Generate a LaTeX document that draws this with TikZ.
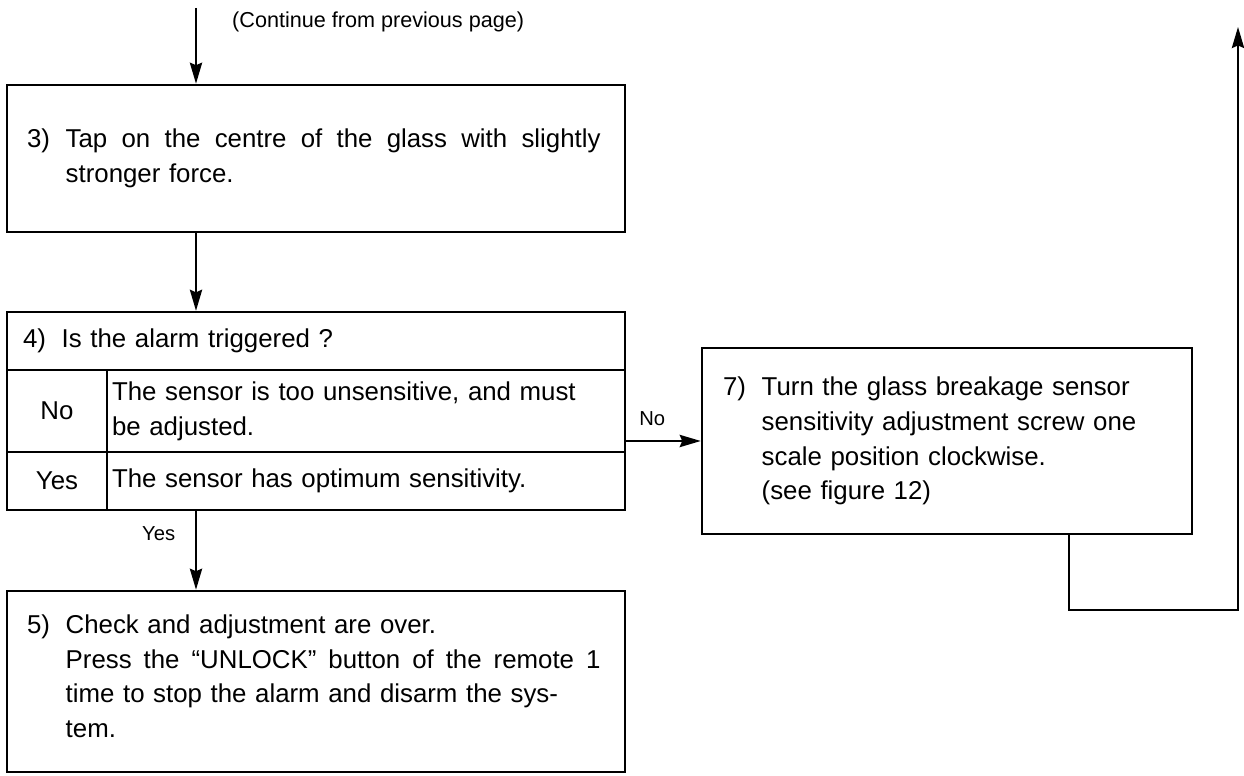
\documentclass[tikz,border=0pt]{standalone}
\usepackage{fontspec}
\setmainfont{Liberation Sans}
\usetikzlibrary{arrows.meta,positioning}

\newcommand\stepfont{\fontsize{14.7pt}{19.8pt}\selectfont}
\newcommand\notefont{\fontsize{12.3pt}{15pt}\selectfont}
\newcommand\tagfont{\fontsize{11.5pt}{14pt}\selectfont}
\newcommand\stepno[1]{\makebox[22pt][l]{#1}}
\newcommand\fullline[1]{\hbox to 304.4pt{\spaceskip=0.278em plus 1fil\relax #1}}

\begin{document}
\begin{tikzpicture}[x=0.02cm, y=-0.02cm, >={Stealth[length=12pt,width=7pt,inset=1.5pt]},
  stepbox/.style={draw, line width=1.5pt, inner sep=0pt, align=left, font=\stepfont},
  cell/.style={draw, line width=1.4pt, inner sep=0pt, font=\stepfont},
  flow/.style={line width=1.1pt}]
  \useasboundingbox (0,0) rectangle (1244,776);

  % Define the coordinates
  \coordinate (start) at (196,8);
  \coordinate (loopx) at (1069,0);
  \coordinate (back) at (1238,27);

  % Draw the steps
  \node[stepbox, minimum width=12.36cm, minimum height=2.94cm, text width=11.56cm] (tap) at (316,158.5)
    {\stepno{3)}\fullline{Tap on the centre of the glass with slightly}\\
     \stepno{}stronger force.};
  \node[stepbox, minimum width=9.8cm, minimum height=3.72cm, text width=8.96cm] (turn) at (947,441)
    {\stepno{7)}Turn the glass breakage sensor\\
     \stepno{}sensitivity adjustment screw one\\
     \stepno{}scale position clockwise.\\
     \stepno{}(see figure 12)};
  \node[stepbox, minimum width=12.36cm, minimum height=3.62cm, text width=11.56cm] (over) at (316,681.5)
    {\stepno{5)}Check and adjustment are over.\\
     \stepno{}\fullline{Press the “UNLOCK” button of the remote 1}\\
     \stepno{}time to stop the alarm and disarm the sys-\\
     \stepno{}tem.\rule[-6pt]{0pt}{6pt}};

  % Draw the question table
  \node[cell, minimum width=12.36cm, minimum height=1.16cm, text width=11.72cm, align=left] (ask) at (316,341)
    {\stepno{4)}Is the alarm triggered ?};
  \node[cell, minimum width=2cm, minimum height=1.64cm] (noA) at (57,411) {No};
  \node[cell, minimum width=10.36cm, minimum height=1.64cm, text width=10.16cm, align=left] (noB) at (366,411)
    {The sensor is too unsensitive, and must\\be adjusted.};
  \node[cell, minimum width=2cm, minimum height=1.16cm] (yesA) at (57,481) {Yes};
  \node[cell, minimum width=10.36cm, minimum height=1.16cm, text width=10.16cm, align=left] (yesB) at (366,481)
    {The sensor has optimum sensitivity.};

  % Draw the arrows
  \draw[flow, ->] (start) -- (tap.north -| start);
  \node[anchor=west, font=\notefont] (cont) at (226,22) {(Continue from previous page)};
  \draw[flow, ->] (tap.south -| start) -- (ask.north -| start);
  \draw[flow, ->] (turn.west -| noB.east) -- (turn.west)
    node[pos=0.35, above=5pt, font=\tagfont] (nolbl) {No};
  \draw[flow, ->] (yesB.south -| start) -- (over.north -| start)
    node[pos=0.28, left=8pt, font=\tagfont] (yeslbl) {Yes};
  \draw[flow, ->] (turn.south -| loopx) -- ++(0,75) -| (back);
\end{tikzpicture}
\end{document}
